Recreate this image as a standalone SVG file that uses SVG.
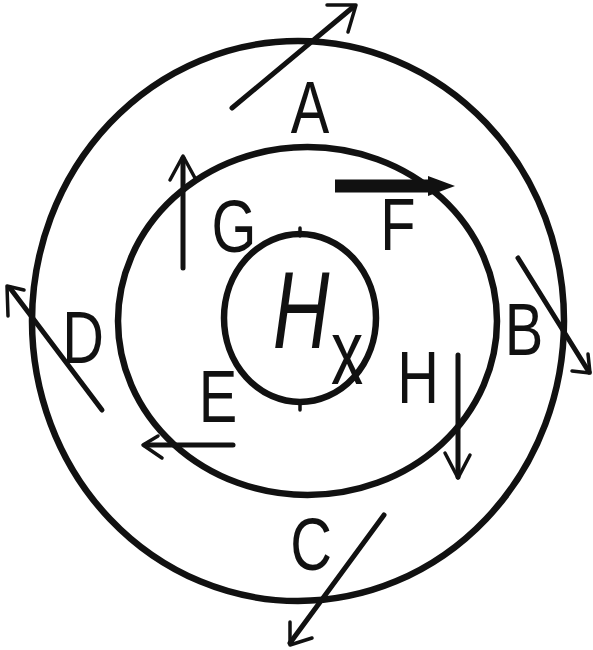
<svg xmlns="http://www.w3.org/2000/svg" width="593" height="650" viewBox="0 0 593 650">
<style>
.ring{fill:none;stroke:#111;stroke-width:6.5}
.ln{fill:none;stroke:#111;stroke-width:5;stroke-linecap:round;stroke-linejoin:round}
.hd{fill:none;stroke:#111;stroke-width:3.5;stroke-linecap:round;stroke-linejoin:round}
.lbl{font-family:"Liberation Sans",Arial,sans-serif;font-size:74px;fill:#111;text-anchor:middle}
</style>
<rect width="593" height="650" fill="#fff"/>
<g id="outer"><ellipse class="ring" cx="298" cy="321" rx="266" ry="280"/></g>
<g id="middle"><ellipse class="ring" cx="307.5" cy="321" rx="189.5" ry="174"/></g>
<g id="inner"><ellipse class="ring" cx="300" cy="318" rx="76" ry="84"/>
<line class="hd" x1="300" y1="228" x2="300" y2="236"/><line class="hd" x1="300" y1="401" x2="300" y2="410"/>
<text class="lbl" transform="translate(301,348) scale(0.72,1)" style="font-size:109px;font-style:italic">H</text>
<text class="lbl" transform="translate(347,384) scale(0.7,1)" style="font-size:92px">x</text>
</g>
<g id="labels">
<text class="lbl" transform="translate(310,133) scale(0.78,1)">A</text>
<text class="lbl" transform="translate(234,252) scale(0.78,1)">G</text>
<text class="lbl" transform="translate(398,250) scale(0.78,1)">F</text>
<text class="lbl" transform="translate(83,363) scale(0.78,1)">D</text>
<text class="lbl" transform="translate(524,355) scale(0.78,1)">B</text>
<text class="lbl" transform="translate(418,403) scale(0.78,1)">H</text>
<text class="lbl" transform="translate(218,422) scale(0.78,1)">E</text>
<text class="lbl" transform="translate(311,570) scale(0.78,1)">C</text>
</g>
<g id="connectors">
<line class="ln" x1="232" y1="108" x2="352" y2="8"/>
<polyline class="hd" points="327,5 356,5 348,32"/>
<line class="ln" x1="183" y1="268" x2="183" y2="158"/>
<polyline class="hd" points="170,180 183,156 195,178"/>
<line x1="335" y1="186" x2="430" y2="186" stroke="#111" stroke-width="13"/>
<polygon points="428,176 455,186 428,196" fill="#111"/>
<line class="ln" x1="102" y1="410" x2="10" y2="288"/>
<polyline class="hd" points="8,316 7,286 24,290"/>
<line class="ln" x1="518" y1="258" x2="589" y2="372"/>
<polyline class="hd" points="572,371 590,373 588,354"/>
<line class="ln" x1="458" y1="355" x2="458" y2="477"/>
<polyline class="hd" points="445,453 458,478 470,455"/>
<line class="ln" x1="233" y1="445" x2="145" y2="445"/>
<polyline class="hd" points="158,436 143,445 162,458"/>
<line class="ln" x1="384" y1="515" x2="290" y2="643"/>
<polyline class="hd" points="290,622 290,645 312,638"/>
</g>
</svg>
